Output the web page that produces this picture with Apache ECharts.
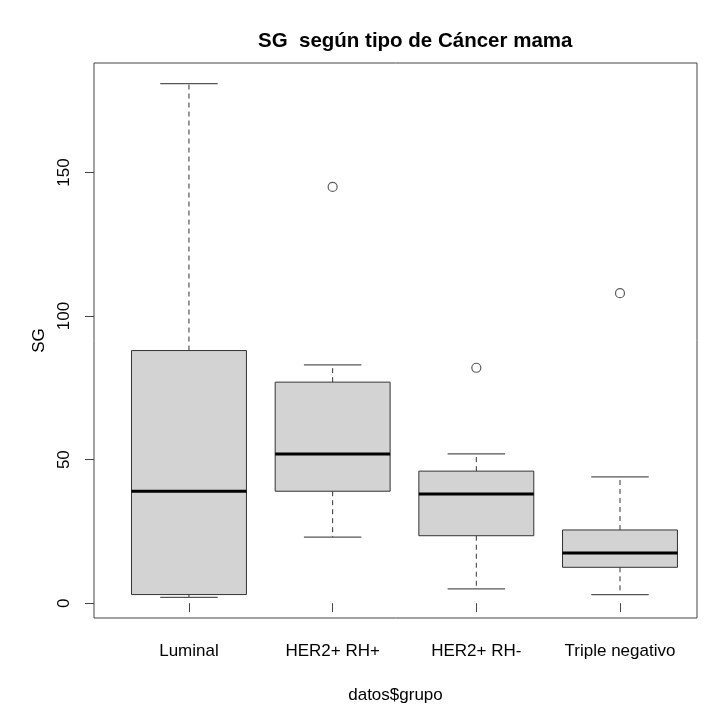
<!DOCTYPE html>
<html>
<head>
<meta charset="utf-8">
<script src="https://cdn.jsdelivr.net/npm/echarts@6/dist/echarts.min.js"></script>
<style>html,body{margin:0;padding:0;background:#fff}#c{width:710px;height:710px}</style>
</head>
<body>
<div id="c"></div>
<script>
const categories = ['Luminal', 'HER2+ RH+', 'HER2+ RH-', 'Triple negativo'];
const whiskerLow = [2, 23, 5, 3];
const quartile1 = [3, 39, 23.5, 12.5];
const medians = [39, 52, 38, 17.5];
const quartile3 = [88, 77, 46, 25.5];
const whiskerHigh = [181, 83, 52, 44];
const outlierGroup = [2, 3, 4];
const outlierValues = [145, 82, 108];
const yTicks = [0, 50, 100, 150];
const xTicks = [1, 2, 3, 4];

const boxData = categories.map((c, i) => [i + 1, whiskerLow[i], quartile1[i], medians[i], quartile3[i], whiskerHigh[i]]);
const outlierData = outlierGroup.map((g, i) => [g, outlierValues[i]]);

const chart = echarts.init(document.getElementById('c'), null, {renderer: 'canvas'});
const FONT = '"Liberation Sans", Arial, Helvetica, sans-serif';

function renderBox(params, api) {
  const x = api.value(0);
  const pLow = api.coord([x, api.value(1)]);
  const pQ1 = api.coord([x, api.value(2)]);
  const pMed = api.coord([x, api.value(3)]);
  const pQ3 = api.coord([x, api.value(4)]);
  const pHigh = api.coord([x, api.value(5)]);
  const bw = api.size([1, 0])[0] * 0.8;
  const st = bw / 2;
  const cx = pMed[0];
  const line = '#333';
  return {
    type: 'group',
    children: [
      {type: 'line', shape: {x1: cx, y1: pQ3[1], x2: cx, y2: pHigh[1]}, style: {stroke: line, lineWidth: 1, lineDash: [5, 4]}},
      {type: 'line', shape: {x1: cx, y1: pQ1[1], x2: cx, y2: pLow[1]}, style: {stroke: line, lineWidth: 1, lineDash: [5, 4]}},
      {type: 'line', shape: {x1: cx - st / 2, y1: pHigh[1], x2: cx + st / 2, y2: pHigh[1]}, style: {stroke: '#555', lineWidth: 1.3}},
      {type: 'line', shape: {x1: cx - st / 2, y1: pLow[1], x2: cx + st / 2, y2: pLow[1]}, style: {stroke: '#555', lineWidth: 1.3}},
      {type: 'rect', shape: {x: cx - bw / 2, y: pQ3[1], width: bw, height: pQ1[1] - pQ3[1]}, style: {fill: '#d3d3d3', stroke: line, lineWidth: 1}},
      {type: 'line', shape: {x1: cx - bw / 2, y1: pMed[1], x2: cx + bw / 2, y2: pMed[1]}, style: {stroke: '#000', lineWidth: 3}}
    ]
  };
}

chart.setOption({
  animation: false,
  backgroundColor: '#fff',
  title: {
    text: 'SG  según tipo de Cáncer mama',
    left: 253,
    top: 26,
    textStyle: {fontFamily: FONT, fontWeight: 'bold', fontSize: 20.5, color: '#000'}
  },
  grid: {
    left: 94, top: 63, width: 603, height: 555,
    outerBoundsMode: 'none',
    containLabel: false,
    show: true, borderColor: '#444', borderWidth: 1, backgroundColor: 'transparent'
  },
  xAxis: {
    type: 'value',
    min: 0.339, max: 4.536,
    name: 'datos$grupo',
    nameLocation: 'middle',
    nameGap: 69,
    nameTextStyle: {fontFamily: FONT, fontSize: 17, color: '#000'},
    axisLine: {show: false},
    splitLine: {show: false},
    axisTick: {show: true, length: 9, customValues: xTicks, lineStyle: {color: '#444'}},
    axisLabel: {
      customValues: xTicks,
      margin: 25,
      fontFamily: FONT, fontSize: 17, color: '#000',
      formatter: v => categories[Math.round(v) - 1] || ''
    }
  },
  yAxis: {
    type: 'value',
    min: -5.16, max: 188.16,
    name: 'SG',
    nameLocation: 'middle',
    nameGap: 43,
    nameTextStyle: {fontFamily: FONT, fontSize: 17, color: '#000'},
    axisLine: {show: false},
    splitLine: {show: false},
    axisTick: {show: true, length: 9, customValues: yTicks, lineStyle: {color: '#444'}},
    axisLabel: {
      customValues: yTicks,
      rotate: 90,
      margin: 21,
      fontFamily: FONT, fontSize: 17, color: '#000'
    }
  },
  series: [
    {
      type: 'custom',
      renderItem: renderBox,
      encode: {x: 0, y: [1, 2, 3, 4, 5]},
      data: boxData,
      silent: true,
      z: 2
    },
    {
      type: 'scatter',
      data: outlierData,
      symbol: 'circle',
      symbolSize: 9,
      itemStyle: {color: 'rgba(0,0,0,0)', borderColor: '#333', borderWidth: 1.2},
      silent: true,
      z: 3
    }
  ]
});
</script>
</body>
</html>
